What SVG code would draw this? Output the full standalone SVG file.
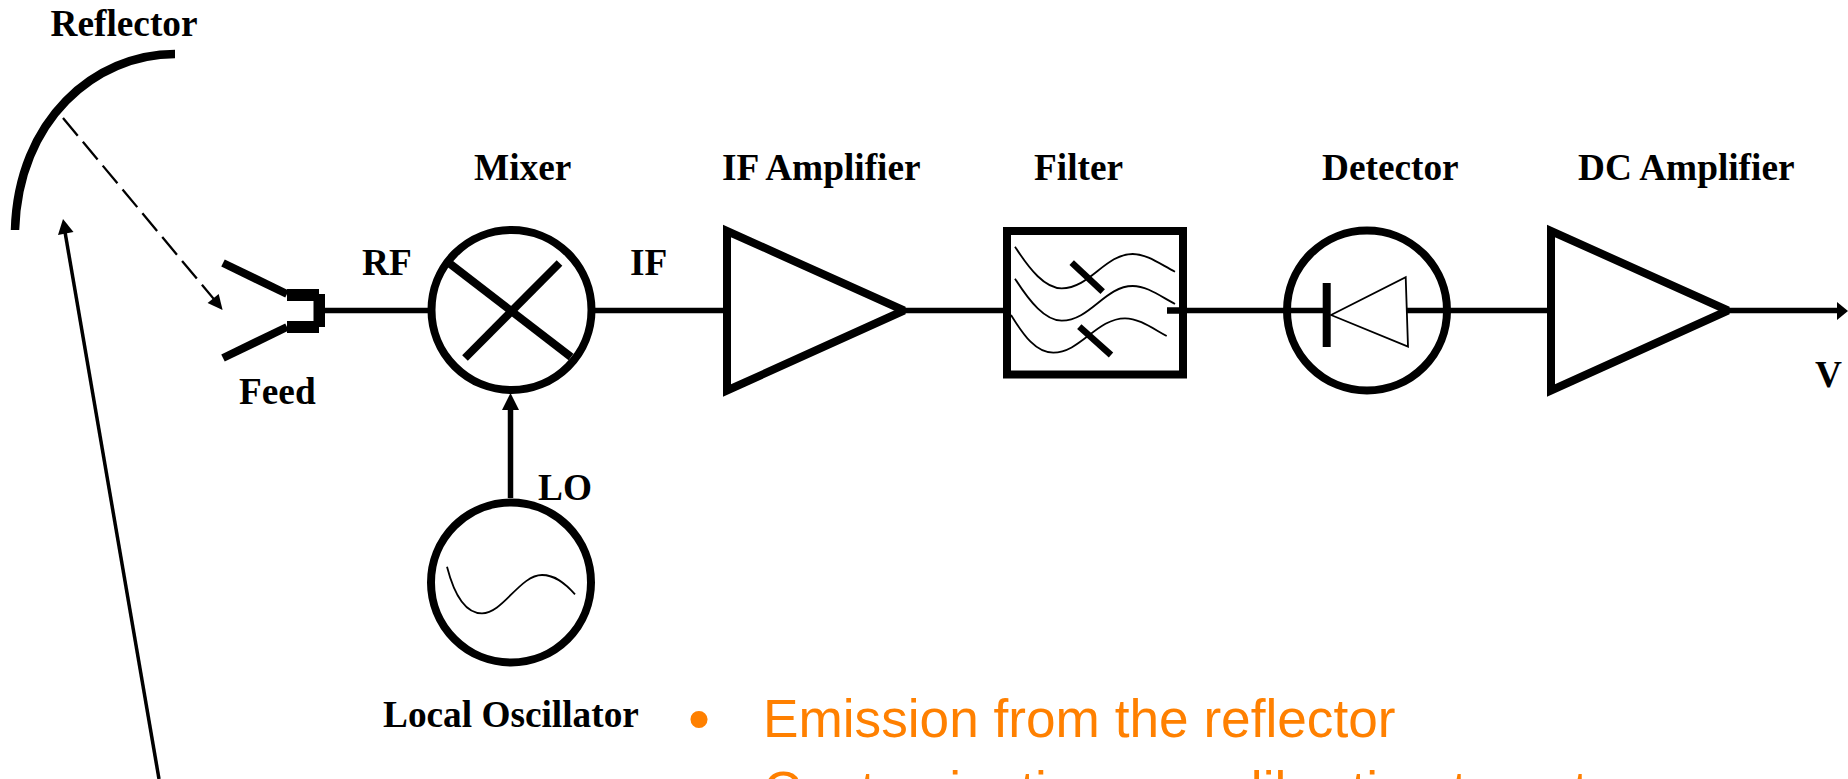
<svg xmlns="http://www.w3.org/2000/svg" width="1848" height="779" viewBox="0 0 1848 779">
<style>
.l{font-family:"Liberation Serif","Times New Roman",serif;font-weight:bold;font-size:37.3px;fill:#000}
.o{font-family:"Liberation Sans",Arial,sans-serif;font-size:53.2px;fill:#FF8000}
.w{fill:none;stroke:#000;stroke-width:5.5}
.h{fill:none;stroke:#000;stroke-width:8}
.t{fill:none;stroke:#000;stroke-width:1.8}
.b{fill:none;stroke:#000;stroke-width:6.5}
.f{fill:#000;stroke:none}
</style>
<rect width="1848" height="779" fill="#fff"/>
<g id="connectors">
<line class="w" x1="325" y1="310.5" x2="428" y2="310.5"/>
<line class="w" x1="595" y1="310.5" x2="725" y2="310.5"/>
<line class="w" x1="905" y1="310.5" x2="1003" y2="310.5"/>
<line class="w" x1="1187" y1="310.5" x2="1284" y2="310.5"/>
<line class="w" x1="1450" y1="310.5" x2="1548" y2="310.5"/>
<line class="w" x1="1729" y1="310.5" x2="1840" y2="310.5"/>
<polygon class="f" points="1837,302 1848,311 1837,320"/>
<line class="w" x1="510.5" y1="498" x2="510.5" y2="408"/>
<polygon class="f" points="510.5,393 519,410 502,410"/>
<line x1="63" y1="118" x2="218" y2="304" stroke="#000" stroke-width="2.3" stroke-dasharray="23 8" fill="none"/>
<polygon class="f" points="222.6,310 207.6,303 218.7,294"/>
<line x1="65" y1="232" x2="159" y2="779" stroke="#000" stroke-width="3.5" fill="none"/>
<polygon class="f" points="63,219 73.5,232 58,235"/>
</g>
<g id="reflector">
<path fill="none" stroke="#000" stroke-width="8.5" d="M15 230C18 120 95 54 175 54"/>
<text class="l" x="50.500" y="36">Reflector</text>
</g>
<g id="feed">
<line class="h" x1="223" y1="263" x2="287" y2="294"/>
<line class="h" x1="223" y1="358" x2="287" y2="327"/>
<rect class="f" x="287" y="289" width="32" height="12"/>
<rect class="f" x="287" y="321" width="32" height="12"/>
<rect class="f" x="313.5" y="294" width="11.5" height="33"/>
<text class="l" x="239" y="404">Feed</text>
<text class="l" x="362" y="275">RF</text>
</g>
<g id="mixer">
<circle class="h" cx="511.5" cy="310" r="80"/>
<line class="h" x1="449" y1="263" x2="571" y2="357"/>
<line class="h" x1="559.5" y1="263" x2="465" y2="358"/>
<text class="l" x="474" y="180">Mixer</text>
<text class="l" x="630" y="275">IF</text>
</g>
<g id="if-amplifier">
<path class="h" d="M727 231V390.500L904 310.500Z" stroke-miterlimit="2.2"/>
<text class="l" x="722" y="180">IF Amplifier</text>
</g>
<g id="filter">
<rect class="h" x="1007" y="231" width="176" height="143.500"/>
<path class="t" d="M1015 246.700C1030 270 1045 288.300 1061.700 288.300C1090 288.300 1105 254 1132.700 254C1147 254 1160 264 1175 271.700"/>
<path class="t" d="M1015 278.700C1030 302 1045 320.700 1061.700 320.700C1090 320.700 1105 286 1132.700 286C1147 286 1160 296 1175 304"/>
<path class="t" d="M1011 315C1024 336 1036 352.700 1053.300 352.700C1080 352.700 1097 318.300 1125 318.300C1139 318.300 1152 328 1166.700 336"/>
<line class="b" x1="1071.700" y1="262.700" x2="1102.700" y2="291.700"/>
<line class="b" x1="1079.300" y1="326.700" x2="1111" y2="355"/>
<line class="b" x1="1167" y1="310.500" x2="1187" y2="310.500"/>
<text class="l" x="1034" y="180">Filter</text>
</g>
<g id="detector">
<circle class="h" cx="1367" cy="310.500" r="80"/>
<line class="w" x1="1284" y1="310.500" x2="1323" y2="310.500"/>
<line class="w" x1="1407" y1="310.500" x2="1450" y2="310.500"/>
<rect class="f" x="1322.700" y="283" width="8" height="64"/>
<path class="t" d="M1331 315L1405.700 277.300L1408 346.700Z"/>
<text class="l" x="1322" y="180">Detector</text>
</g>
<g id="dc-amplifier">
<path class="h" d="M1551 231V390.500L1728 310.500Z" stroke-miterlimit="2.2"/>
<text class="l" x="1578" y="180">DC Amplifier</text>
<text class="l" x="1815" y="387">V</text>
</g>
<g id="local-oscillator">
<circle class="h" cx="511" cy="582.500" r="80"/>
<path class="t" d="M447 566.700C453 590 463 613.300 482 613.300C503 613.300 520 575 542 575C555 575 565 583 575 594.300"/>
<text class="l" x="538" y="500">LO</text>
<text class="l" x="383" y="727">Local Oscillator</text>
</g>
<g id="notes">
<text x="688" y="740" style="font-family:'Liberation Sans',Arial,sans-serif;font-size:63px;fill:#FF8000">•</text>
<text class="o" x="763" y="737">Emission from the reflector</text>
<text class="o" x="763" y="808.500">Contamination on calibration target</text>
</g>
</svg>
